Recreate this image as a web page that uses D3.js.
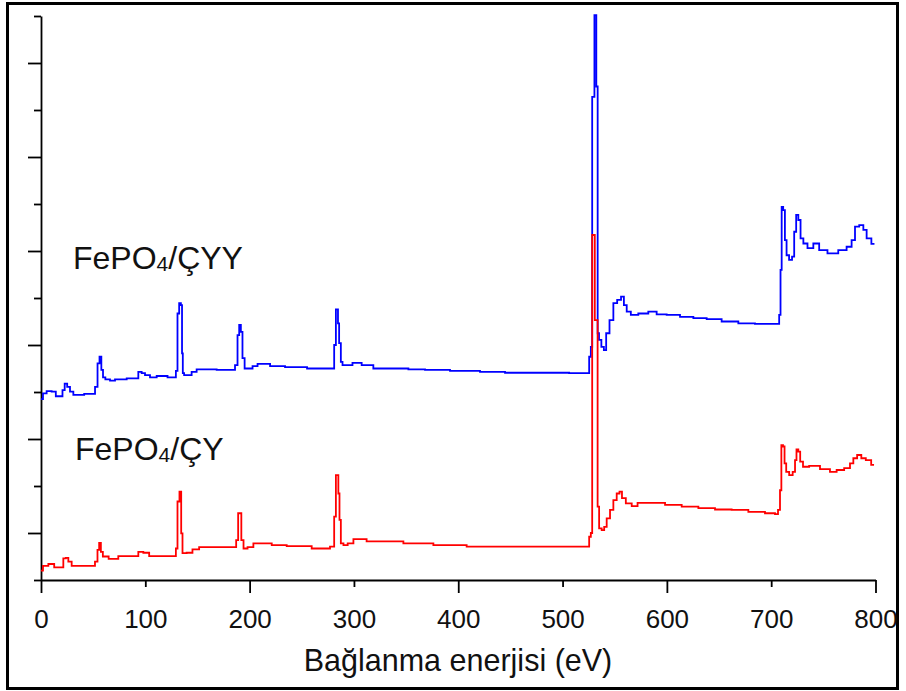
<!DOCTYPE html>
<html>
<head>
<meta charset="utf-8">
<script src="https://cdn.jsdelivr.net/npm/d3@7"></script>
<style>
  html, body { margin: 0; padding: 0; background: #fff; }
  svg { display: block; font-family: "Liberation Sans", Arial, sans-serif; }
</style>
</head>
<body>
<svg id="chart" width="906" height="691"></svg>
<script>
// XPS survey spectra: binding energy (eV) vs. intensity (arbitrary units, offset)
const seriesNames = ["FePO4/ÇYY", "FePO4/ÇY"];
const seriesColors = ["#0000ff", "#ff0000"];

const xTickValues = [0, 100, 200, 300, 400, 500, 600, 700, 800];
const yTickValues = [0, 1, 2, 3, 4, 5, 6, 7, 8, 9, 10, 11, 12];

// FePO4/ÇYY (upper trace)
const blueEnergy = [0, 3.8, 7.0, 13.4, 15.0, 19.8, 21.4, 24.0, 26.2, 29.4, 32.6, 50.2, 53.4, 55.0, 57.2, 58.5, 60.4, 63.0, 69.3, 72.6,
  91.7, 94.9, 98.1, 101.3, 107.7, 114.1, 128.5, 130.1, 131.6, 133.3, 134.9, 135.5, 136.4, 138.0, 142.8, 146.0, 152.4, 184.4,
  187.6, 189.2, 190.8, 192.4, 193.9, 196.5, 200.4, 205.2, 210.0, 216.4, 222.8, 245.1, 265.0, 280.2, 281.9, 283.5, 284.4, 285.0,
  286.6, 288.3, 289.8, 294.6, 302.6, 312.2, 325.0, 344.2, 360.2, 376.1, 408.1, 433.6, 456.1, 487.9, 524.7, 526.3, 527.9, 528.9,
  530.0, 531.1, 532.0, 532.7, 533.3, 534.0, 535.9, 538.5, 540.7, 542.9, 547.1, 550.3, 554.4, 557.7, 559.9, 563.1, 567.8, 577.4,
  587.0, 593.4, 606.2, 619.0, 631.8, 644.5, 660.5, 676.5, 692.4, 706.8, 708.5, 709.4, 710.7, 712.3, 714.0, 715.5, 718.8, 721.2,
  722.9, 725.0, 727.0, 729.3, 732.4, 737.2, 743.6, 748.4, 759.5, 769.1, 775.5, 778.7, 782.0, 786.8, 789.9, 793.1, 799.0];
const blueCounts = [3.85, 3.97, 4.02, 4.01, 3.91, 3.91, 4.04, 4.18, 4.11, 4.01, 3.94, 3.96, 4.11, 4.61, 4.75, 4.47, 4.31, 4.27, 4.24, 4.27,
  4.29, 4.43, 4.40, 4.36, 4.31, 4.34, 4.31, 4.45, 5.67, 5.89, 5.85, 4.82, 4.40, 4.36, 4.36, 4.43, 4.48, 4.47,
  4.57, 5.21, 5.43, 5.28, 4.72, 4.50, 4.50, 4.55, 4.60, 4.60, 4.55, 4.53, 4.50, 4.50, 5.00, 5.76, 5.76, 5.46,
  5.04, 4.64, 4.57, 4.57, 4.62, 4.57, 4.50, 4.50, 4.48, 4.47, 4.45, 4.43, 4.41, 4.41, 4.40, 4.75, 4.96, 10.28,
  10.28, 12.02, 12.02, 10.50, 10.50, 5.25, 5.11, 4.96, 4.89, 5.25, 5.53, 5.89, 5.96, 6.03, 5.85, 5.71, 5.64, 5.67,
  5.71, 5.65, 5.64, 5.60, 5.57, 5.55, 5.50, 5.46, 5.45, 5.45, 5.64, 6.60, 7.94, 7.87, 7.23, 6.91, 6.81, 6.88,
  7.41, 7.77, 7.66, 7.27, 7.16, 7.06, 7.16, 7.02, 6.95, 7.02, 7.09, 7.23, 7.52, 7.55, 7.45, 7.27, 7.15];

// FePO4/ÇY (lower trace)
const redEnergy = [0, 3.8, 10.3, 15.0, 19.8, 23.0, 24.6, 27.8, 31.0, 50.1, 53.4, 54.9, 56.6, 58.2, 60.4, 69.3, 78.9, 91.7, 94.9,
  101.3, 106.1, 128.5, 130.1, 131.6, 133.9, 134.9, 136.4, 142.8, 147.6, 155.6, 186.0, 188.2, 189.8, 191.4, 192.7, 195.6, 200.4,
  206.8, 216.4, 226.0, 245.1, 273.9, 280.2, 281.9, 283.5, 284.4, 285.7, 286.6, 288.3, 291.6, 296.4, 302.6, 308.9, 315.4, 334.6,
  360.2, 392.1, 424.0, 456.1, 487.9, 524.7, 526.3, 527.9, 528.9, 530.5, 531.3, 533.0, 534.2, 535.9, 539.1, 540.7, 543.9, 547.1,
  550.3, 553.5, 555.7, 558.2, 563.1, 569.5, 574.3, 590.3, 606.2, 622.2, 638.2, 654.1, 670.1, 686.1, 702.0, 705.3, 707.8, 709.1,
  710.4, 712.3, 713.3, 715.5, 719.0, 722.2, 723.5, 725.0, 727.0, 728.6, 732.4, 740.4, 753.2, 759.5, 766.0, 773.9, 777.2, 780.3,
  784.5, 788.3, 793.1, 798.6];
const redCounts = [0.20, 0.30, 0.34, 0.27, 0.27, 0.46, 0.47, 0.39, 0.30, 0.30, 0.39, 0.64, 0.79, 0.60, 0.50, 0.45, 0.51, 0.51, 0.60,
  0.58, 0.51, 0.51, 0.67, 1.67, 1.88, 0.99, 0.57, 0.58, 0.65, 0.70, 0.70, 0.85, 1.42, 1.42, 0.85, 0.67, 0.70,
  0.78, 0.78, 0.74, 0.72, 0.67, 0.71, 1.35, 2.23, 2.23, 1.84, 1.28, 0.78, 0.74, 0.78, 0.87, 0.87, 0.82, 0.82,
  0.78, 0.74, 0.71, 0.71, 0.71, 0.71, 0.92, 1.00, 7.34, 7.34, 5.53, 5.53, 1.56, 1.10, 1.06, 1.13, 1.31, 1.49,
  1.70, 1.84, 1.88, 1.74, 1.63, 1.57, 1.64, 1.64, 1.60, 1.56, 1.53, 1.50, 1.49, 1.45, 1.42, 1.40, 1.49, 1.91,
  2.87, 2.84, 2.48, 2.30, 2.23, 2.30, 2.55, 2.78, 2.73, 2.52, 2.41, 2.43, 2.36, 2.30, 2.34, 2.38, 2.48, 2.59,
  2.66, 2.59, 2.55, 2.45];

const svg = d3.select("#chart");

// outer frame
svg.append("rect")
  .attr("x", 7.5).attr("y", 3.5)
  .attr("width", 890).attr("height", 685)
  .attr("fill", "none").attr("stroke", "#000").attr("stroke-width", 3);

const x = d3.scaleLinear().domain([0, 800]).range([41, 875.5]);
const y = d3.scaleLinear().domain([0, 12]).range([580, 16]);

// x axis: long ticks on even hundreds, short on odd hundreds
const xAxis = svg.append("g")
  .attr("transform", "translate(0,580)")
  .call(d3.axisBottom(x).tickValues(xTickValues).tickSize(13).tickSizeOuter(0).tickFormat(d3.format("d")));
xAxis.selectAll(".tick line")
  .attr("y2", d => (d / 100) % 2 === 0 ? 13 : 7);
xAxis.selectAll("path, line").attr("stroke", "#000").attr("stroke-width", 1.8);
xAxis.selectAll("text")
  .attr("y", 48).attr("dy", 0)
  .attr("font-size", 26).attr("fill", "#111")
  .attr("font-family", "'Liberation Sans', Arial, sans-serif");

// y axis: unlabeled, alternating tick lengths
const yAxis = svg.append("g")
  .attr("transform", "translate(41,0)")
  .call(d3.axisLeft(y).tickValues(yTickValues).tickSize(13).tickSizeOuter(0).tickFormat(""));
yAxis.selectAll(".tick line")
  .attr("x2", d => d % 2 === 1 ? -13 : -7);
yAxis.selectAll("path, line").attr("stroke", "#000").attr("stroke-width", 1.8);

// axis title
svg.append("text")
  .attr("x", 458).attr("y", 671)
  .attr("text-anchor", "middle")
  .attr("font-size", 30.5).attr("fill", "#111")
  .text("Bağlanma enerjisi (eV)");

// spectra, drawn as stepped traces
const line = d3.line().curve(d3.curveStep).x(d => x(d[0])).y(d => y(d[1]));
const series = [
  { name: seriesNames[0], color: seriesColors[0], pts: d3.zip(blueEnergy, blueCounts) },
  { name: seriesNames[1], color: seriesColors[1], pts: d3.zip(redEnergy, redCounts) }
];
svg.append("g").selectAll("path")
  .data(series)
  .join("path")
  .attr("d", d => line(d.pts))
  .attr("fill", "none")
  .attr("stroke", d => d.color)
  .attr("stroke-width", 1.8)
  .attr("stroke-linejoin", "miter");

// series labels with subscript 4
function seriesLabel(px, py, tail) {
  const t = svg.append("text")
    .attr("x", px).attr("y", py)
    .attr("font-size", 32).attr("fill", "#111");
  t.append("tspan").text("FePO");
  t.append("tspan").attr("font-size", 21).attr("dy", 2).text("4");
  t.append("tspan").attr("dy", -2).text("/" + tail);
}
seriesLabel(73, 269, "ÇYY");
seriesLabel(75, 460, "ÇY");
</script>
</body>
</html>
